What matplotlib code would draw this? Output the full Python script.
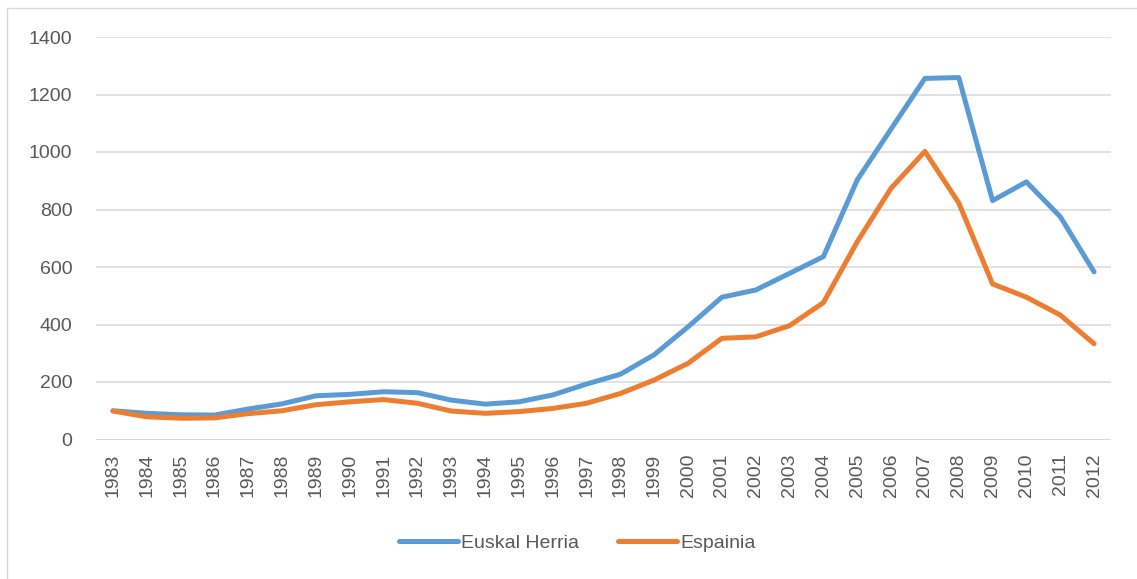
import matplotlib
matplotlib.use("Agg")
import matplotlib.pyplot as plt
from matplotlib.lines import Line2D

years = list(range(1983, 2013))
euskal_herria = [100, 91, 86, 85, 106, 124, 152, 157, 166, 163,
                 137, 123, 131, 155, 193, 227, 295, 392, 495, 520,
                 578, 636, 903, 1080, 1256, 1259, 831, 896, 775, 583]
espainia = [99, 79, 74, 75, 90, 100, 121, 131, 139, 126,
            99, 91, 97, 108, 126, 160, 207, 265, 352, 357,
            396, 476, 688, 874, 1002, 823, 541, 495, 433, 333]

BLUE = "#5B9BD5"
ORANGE = "#ED7D31"
GRID = "#D9D9D9"
TXT = "#595959"

plt.rcParams["font.family"] = ["Liberation Sans", "DejaVu Sans"]

W, H = 1137, 579
fig = plt.figure(figsize=(W / 100, H / 100), dpi=100)
ax = fig.add_axes([96 / W, 1 - 439.5 / H, (1111 - 96) / W, (439.5 - 37) / H])

ax.plot(years, euskal_herria, color=BLUE, lw=3.6, label="Euskal Herria",
        solid_joinstyle="round", solid_capstyle="round", zorder=3)
ax.plot(years, espainia, color=ORANGE, lw=3.6, label="Espainia",
        solid_joinstyle="round", solid_capstyle="round", zorder=3)

ax.set_xlim(1982.5, 2012.5)
ax.set_ylim(0, 1400)
ax.set_yticks(range(0, 1401, 200))
ax.set_xticks(years)
ax.set_xticklabels([str(y) for y in years], rotation=90, fontsize=14, color=TXT)
ax.tick_params(axis="y", labelsize=14, labelcolor=TXT, length=0, pad=17)
ax.tick_params(axis="x", length=0, pad=10)
ax.grid(axis="y", color=GRID, lw=1.1, zorder=0)
for s in ax.spines.values():
    s.set_visible(False)
ax.axhline(0, color=GRID, lw=1.1, zorder=1)

fig.legend(loc="center", bbox_to_anchor=(0.508, 0.062), ncol=2, frameon=False,
           fontsize=14, handlelength=3.0, columnspacing=2.0, handletextpad=0.2,
           labelcolor=TXT)

# chart-area frame: only the top and left edges are visible
fig.add_artist(Line2D([7 / W, 1], [1 - 8 / H, 1 - 8 / H], transform=fig.transFigure,
                      color=GRID, lw=1))
fig.add_artist(Line2D([7 / W, 7 / W], [0, 1 - 8 / H], transform=fig.transFigure,
                      color=GRID, lw=1))

fig.savefig("out.png", dpi=100, facecolor="white")
